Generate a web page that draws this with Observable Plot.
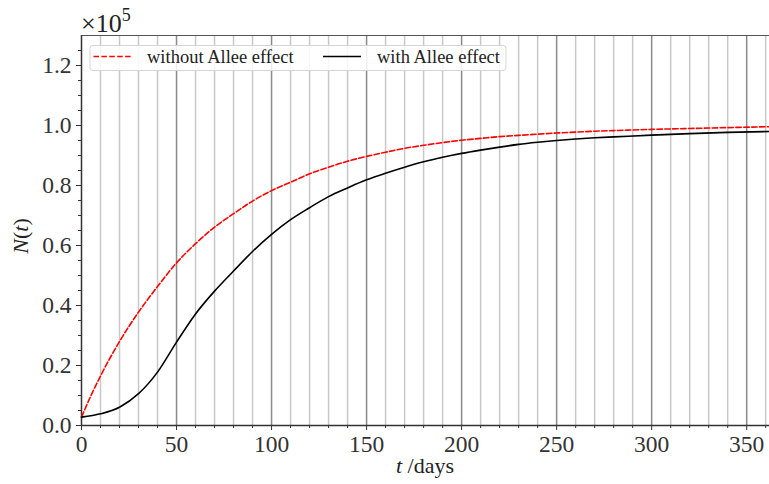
<!DOCTYPE html>
<html><head><meta charset="utf-8">
<script src="https://cdn.jsdelivr.net/npm/d3@7"></script>
<script src="https://cdn.jsdelivr.net/npm/@observablehq/plot@0.6"></script>
<style>
body{margin:0;background:#fff}
#chart svg{display:block}
</style>
</head><body><div id="chart"></div>
<script>
// ---- data (N(t) in units of 1e5) ----
const daysNoAllee = [0, 5, 10, 15, 20, 30, 40, 50, 60, 70, 80, 90, 100, 110, 120, 130, 140, 150, 160, 170, 180, 190, 200, 210, 220, 230, 240, 250, 260, 270, 280, 290, 300, 320, 340, 362];
const withoutAllee = [0.028, 0.100, 0.165, 0.225, 0.280, 0.378, 0.463, 0.542, 0.606, 0.661, 0.706, 0.748, 0.783, 0.811, 0.839, 0.861, 0.881, 0.897, 0.911, 0.924, 0.934, 0.943, 0.951, 0.957, 0.963, 0.967, 0.971, 0.975, 0.978, 0.981, 0.983, 0.985, 0.987, 0.990, 0.993, 0.996];
const daysAllee = [0, 10, 20, 30, 40, 50, 60, 70, 80, 90, 100, 110, 120, 130, 140, 150, 160, 170, 180, 190, 200, 210, 220, 230, 240, 250, 260, 270, 280, 300, 320, 340, 362];
const withAllee = [0.028, 0.039, 0.061, 0.106, 0.178, 0.278, 0.372, 0.448, 0.515, 0.580, 0.637, 0.686, 0.726, 0.763, 0.792, 0.819, 0.841, 0.861, 0.879, 0.894, 0.907, 0.918, 0.928, 0.937, 0.944, 0.950, 0.955, 0.959, 0.962, 0.968, 0.973, 0.977, 0.980];
const seriesNames = ["without Allee effect", "with Allee effect"];
const xMajorTicks = [0, 50, 100, 150, 200, 250, 300, 350];
const xMinorTicks = [10, 20, 30, 40, 60, 70, 80, 90, 110, 120, 130, 140, 160, 170, 180, 190, 210, 220, 230, 240, 260, 270, 280, 290, 310, 320, 330, 340, 360];
const yMajorTicks = [0, 0.2, 0.4, 0.6, 0.8, 1.0, 1.2];
const yMinorTicks = [0.05, 0.1, 0.15, 0.25, 0.3, 0.35, 0.45, 0.5, 0.55, 0.65, 0.7, 0.75, 0.85, 0.9, 0.95, 1.05, 1.1, 1.15, 1.25];

const rowsNo = daysNoAllee.map((t, i) => ({t, N: withoutAllee[i]}));
const rowsWith = daysAllee.map((t, i) => ({t, N: withAllee[i]}));

const FONT = '"Liberation Serif", "DejaVu Serif", serif';
const axisColor = "#333";

const chart = Plot.plot({
  width: 769,
  height: 484,
  marginLeft: 81,
  marginRight: 0,
  marginTop: 35,
  marginBottom: 59,
  style: {fontFamily: FONT, fontSize: "23.5px", color: "#333", background: "#fff"},
  x: {domain: [0, 362], label: null},
  y: {domain: [0, 1.3], label: null},
  marks: [
    Plot.ruleX(xMinorTicks, {x: d => d, stroke: "#c8c8c8", strokeWidth: 1.5}),
    Plot.ruleX(xMajorTicks.filter(d => d > 0), {x: d => d, stroke: "#8a8a8a", strokeWidth: 1.5}),
    Plot.ruleY([1.3], {stroke: "#555", strokeWidth: 1.2}),
    Plot.axisX({ticks: xMinorTicks, tickSize: 3, tickFormat: () => "", label: null, stroke: axisColor}),
    Plot.axisX({ticks: xMajorTicks, tickSize: 5, tickPadding: 5, tickFormat: d3.format("d"), label: null, stroke: axisColor, fill: "#333"}),
    Plot.axisY({ticks: yMinorTicks, tickSize: 3, tickFormat: () => "", label: null, stroke: axisColor}),
    Plot.axisY({ticks: yMajorTicks, tickSize: 5, tickPadding: 5, tickFormat: d3.format(".1f"), label: null, stroke: axisColor, fill: "#333"}),
    Plot.ruleY([0], {stroke: axisColor, strokeWidth: 1.5}),
    Plot.ruleX([0], {stroke: axisColor, strokeWidth: 1.5}),
    Plot.line(rowsNo, {x: "t", y: "N", stroke: "#ff0000", strokeWidth: 1.6, strokeDasharray: "5.5,2.4", curve: "monotone-x"}),
    Plot.line(rowsWith, {x: "t", y: "N", stroke: "#000", strokeWidth: 1.6, curve: "monotone-x"})
  ]
});

const svg = d3.select(chart);
// x label
const xl = svg.append("text").attr("x", 425).attr("y", 473).attr("text-anchor", "middle")
  .attr("font-family", FONT).attr("font-size", 22).attr("fill", "#222");
xl.append("tspan").attr("font-style", "italic").text("t");
xl.append("tspan").text(" /days");
// y label
const yl = svg.append("text").attr("transform", "translate(28,236) rotate(-90)").attr("text-anchor", "middle")
  .attr("font-family", FONT).attr("font-size", 22).attr("fill", "#222");
yl.append("tspan").attr("font-style", "italic").text("N");
yl.append("tspan").text("(");
yl.append("tspan").attr("font-style", "italic").text("t");
yl.append("tspan").text(")");
// multiplier
const mult = svg.append("text").attr("x", 81).attr("y", 32).attr("text-anchor", "start")
  .attr("font-family", FONT).attr("font-size", 26).attr("fill", "#222");
mult.append("tspan").text("×10");
mult.append("tspan").attr("font-size", 18).attr("dy", -11).text("5");

// legend
const lg = svg.append("g").attr("text-anchor", "start");
lg.append("rect").attr("x", 90).attr("y", 45.5).attr("width", 416).attr("height", 25).attr("rx", 3)
  .attr("fill", "rgba(255,255,255,0.85)").attr("stroke", "#d5d5d5");
const legendItems = [
  {name: seriesNames[0], color: "#ff0000", dash: "5.5,2.4", x0: 93.5, tx: 147},
  {name: seriesNames[1], color: "#000", dash: null, x0: 323, tx: 377}
];
legendItems.forEach(it => {
  const l = lg.append("line").attr("x1", it.x0).attr("x2", it.x0 + 38).attr("y1", 56.5).attr("y2", 56.5)
    .attr("stroke", it.color).attr("stroke-width", 1.6);
  if (it.dash) l.attr("stroke-dasharray", it.dash);
  lg.append("text").attr("x", it.tx).attr("y", 62.5).attr("text-anchor", "start").attr("font-family", FONT).attr("font-size", 18.5)
    .attr("fill", "#222").text(it.name);
});

document.getElementById("chart").appendChild(chart);
</script>
</body></html>
